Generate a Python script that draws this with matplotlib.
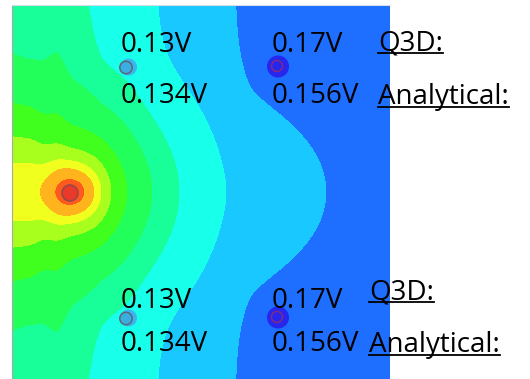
import numpy as np
import matplotlib
matplotlib.use('Agg')
import matplotlib.pyplot as plt
from matplotlib.patches import Circle
from matplotlib.transforms import IdentityTransform
from matplotlib.lines import Line2D

plt.rcParams['font.family'] = ['Open Sans', 'DejaVu Sans']

# band edges of the field (effective distance from the source, px) and colours
levels = [0, 8, 15, 25, 32, 42, 58, 83, 110, 157, 257, 5000]
band_colors = ['#ec2c1e', '#ff5a1e', '#ffb41e', '#f0ff1e', '#a8ff1e', '#40ff1e',
               '#22ff5a', '#18ff9a', '#18ffea', '#18c8ff', '#1e6eff']

# source position
src_x, src_y = 70, 192

# shape of the field along x (vertical stretch, its bend, and its ceiling)
tab_x = [12, 33, 45, 60, 70, 87, 100, 130, 160, 200, 220, 250, 390]
tab_a = [0.57, 0.60, 0.85, 1.2, 1.25, 1.136, 0.95, 1.0, 1.03, 1.07, 1.15, 1.9, 1.9]
tab_ic = [0, 0, 1/150, 1/45, 1/60, 1/100, 1/400, 1/300, 1/600, 1/1000, 1/1000, 0, 0]
sat_x = [12, 91, 110, 133, 160, 200, 236, 390]
sat_g = [105, 112, 128, 128, 131, 160, 198, 210]

# probes
probe_x = [126, 277, 126, 277]
probe_y = [67, 67, 318, 318]
probe_kind = ['low', 'high', 'low', 'high']
q3d_vals = ['0.13V', '0.17V', '0.13V', '0.17V']
ana_vals = ['0.134V', '0.156V', '0.134V', '0.156V']


def smooth(a, n=21):
    pad = np.pad(a, n // 2, mode='edge')
    return np.convolve(pad, np.ones(n) / n, mode='valid')


x = np.linspace(12, 390, 600)
y = np.linspace(5, 379, 600)
A = smooth(np.interp(x, tab_x, tab_a))
ic = smooth(np.interp(x, tab_x, tab_ic))
G = smooth(np.interp(x, sat_x, sat_g))

X, Y = np.meshgrid(x, y)
dx = X - src_x
v = np.abs(Y - src_y)
dm = 27.0
dx_eff = np.where(dx < 0, -dm * np.sqrt(np.tanh((np.abs(dx) / dm) ** 2)), dx)
g_raw = A[None, :] * v / np.sqrt(1 + v * ic[None, :])
g = g_raw / (1 + (g_raw / G[None, :]) ** 8) ** (1 / 8)
D = np.sqrt(dx_eff ** 2 + g ** 2)

fig = plt.figure(figsize=(5.30, 3.79), dpi=100)
ax = fig.add_axes([12 / 530, 0, 378 / 530, 374 / 379])
ax.contourf(X, Y, D, levels=levels, colors=band_colors)
ax.set_xlim(12, 390)
ax.set_ylim(379, 5)
ax.set_xticks([])
ax.set_yticks([])
for s in ['right', 'bottom']:
    ax.spines[s].set_visible(False)
ax.spines['left'].set_color('#a8a8a8')
ax.spines['top'].set_color('#d4dcec')

# source and probe markers
ax.add_patch(Circle((src_x, src_y + 1), 8, facecolor='#e8392b', edgecolor='#9a4848', lw=1.2, zorder=3))
for px, py, kind in zip(probe_x, probe_y, probe_kind):
    if kind == 'low':
        ax.add_patch(Circle((px + 2.5, py), 8.5, facecolor='#3cb4ec', edgecolor='none', zorder=3))
        ax.add_patch(Circle((px, py + 0.5), 6.2, facecolor='#3aaee0', edgecolor='#5a6878', lw=1.1, zorder=4))
    else:
        ax.add_patch(Circle((px + 1, py - 0.5), 11, facecolor='#2626ee', edgecolor='none', zorder=3))
        ax.add_patch(Circle((px, py - 1), 5.5, facecolor='none', edgecolor='#8a2a7a', lw=1.0, zorder=4))

fs = 20
top_row = [0, 1]
for i, (px, py) in enumerate(zip(probe_x, probe_y)):
    up = 15 if i in top_row else 10
    down = 36 if i in top_row else 33
    ax.text(px - 5, py - up, q3d_vals[i], fontsize=fs, va='baseline', ha='left', clip_on=False, zorder=6)
    ax.text(px - 5, py + down, ana_vals[i], fontsize=fs, va='baseline', ha='left', clip_on=False, zorder=6)

texts = []
head_x = [378, 369]
head_q = [50, 299]
head_a = [104, 352]
for hx, hq, ha_ in zip(head_x, head_q, head_a):
    texts.append(ax.text(hx, hq, 'Q3D:', fontsize=fs, va='baseline', ha='left', clip_on=False, zorder=6))
    texts.append(ax.text(hx, ha_, 'Analytical:', fontsize=fs, va='baseline', ha='left', clip_on=False, zorder=6))

# underline the headings
fig.canvas.draw()
r = fig.canvas.get_renderer()
for t in texts:
    bb = t.get_window_extent(r)
    base = ax.transData.transform(t.get_position())[1]
    yy = base - 3
    fig.add_artist(Line2D([bb.x0, bb.x1], [yy, yy], transform=IdentityTransform(), color='black', lw=1.3))

fig.savefig('out.png', dpi=100)
